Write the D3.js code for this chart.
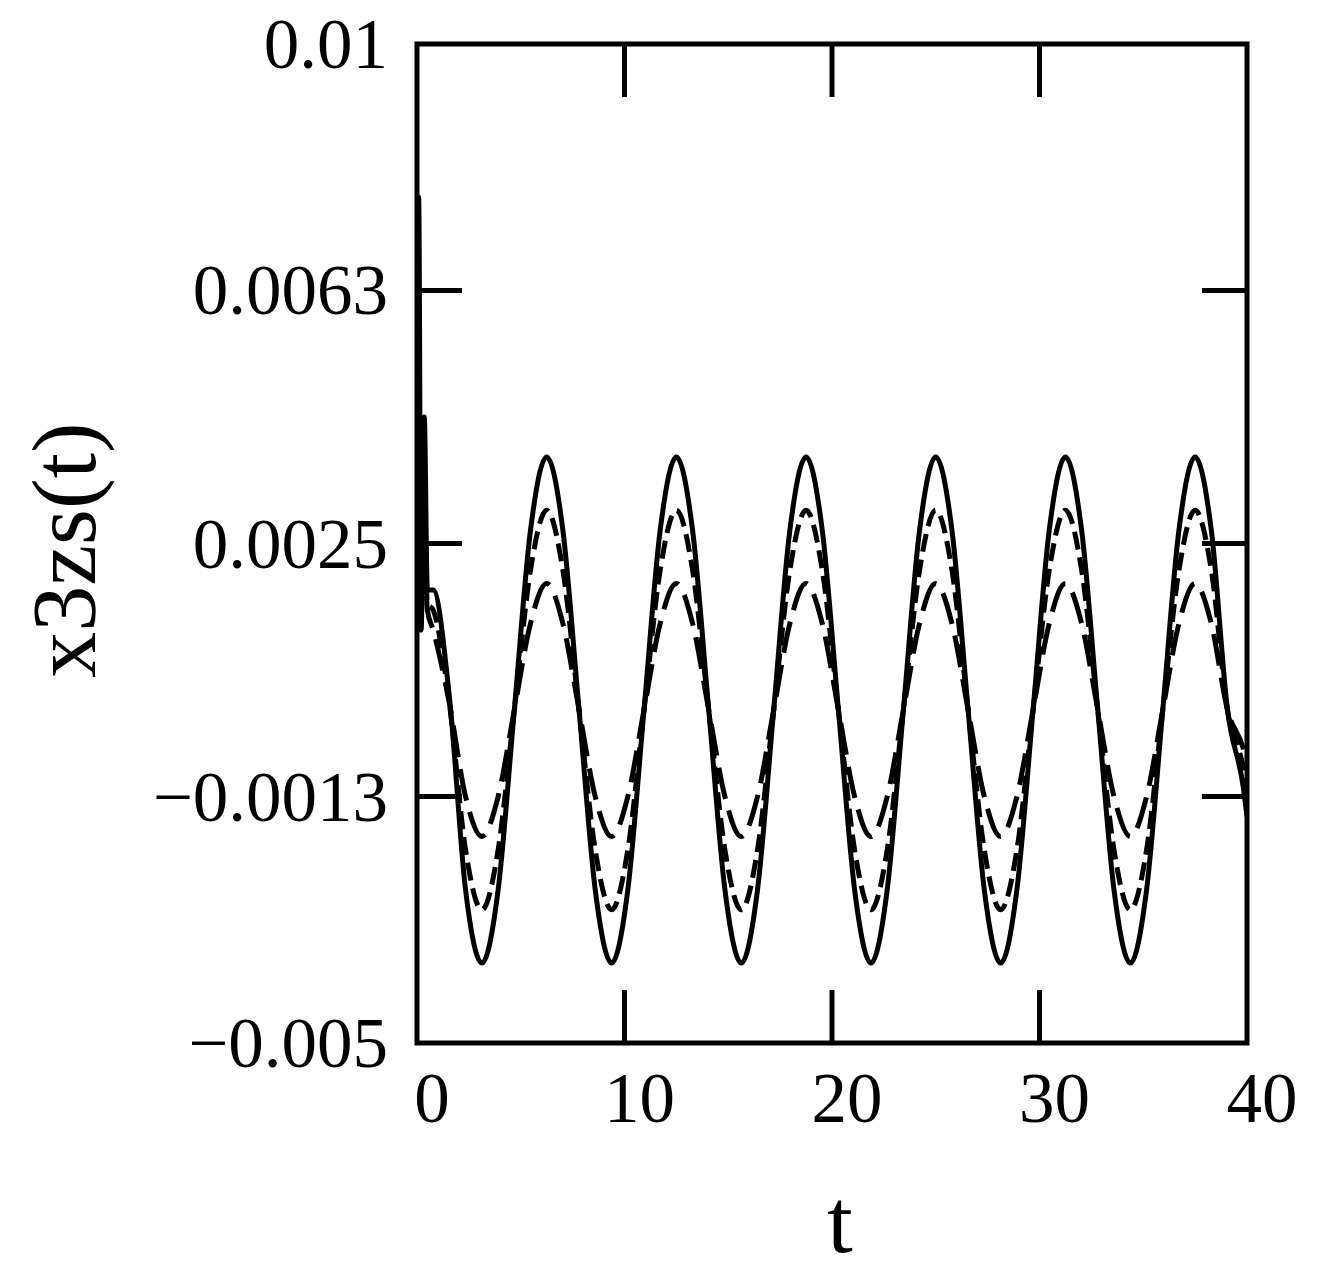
<!DOCTYPE html>
<html><head><meta charset="utf-8">
<script src="https://cdn.jsdelivr.net/npm/d3@7"></script>
<style>body{margin:0;background:#fff}</style></head>
<body><svg id="c" width="1318" height="1278"></svg>
<script>
const tVals=[0,0.08,0.2,0.35,0.5,0.78,1.56,2.34,3.13,3.91,4.69,5.47,6.25,7.03,7.81,8.59,9.38,10.16,10.94,11.72,12.5,13.28,14.06,14.84,15.63,16.41,17.19,17.97,18.75,19.53,20.31,21.09,21.88,22.66,23.44,24.22,25,25.78,26.56,27.34,28.13,28.91,29.69,30.47,31.25,32.03,32.81,33.59,34.38,35.16,35.94,36.72,37.5,38.28,39.06,39.84,40];
const solid=[0.0022,0.0077,0.0012,0.0044,0.0018,0.0018,0.0002,-0.0027,-0.0038,-0.0027,0,0.0027,0.0038,0.0027,0,-0.0027,-0.0038,-0.0027,0,0.0027,0.0038,0.0027,0,-0.0027,-0.0038,-0.0027,0,0.0027,0.0038,0.0027,0,-0.0027,-0.0038,-0.0027,0,0.0027,0.0038,0.0027,0,-0.0027,-0.0038,-0.0027,0,0.0027,0.0038,0.0027,0,-0.0027,-0.0038,-0.0027,0,0.0027,0.0038,0.0027,0,-0.0012,-0.0016];
const dashed=[0.0020,0.0030,0.0015,0.0030,0.0016,0.0015,0.0001,-0.0021,-0.0030,-0.0021,0,0.0021,0.0030,0.0021,0,-0.0021,-0.0030,-0.0021,0,0.0021,0.0030,0.0021,0,-0.0021,-0.0030,-0.0021,0,0.0021,0.0030,0.0021,0,-0.0021,-0.0030,-0.0021,0,0.0021,0.0030,0.0021,0,-0.0021,-0.0030,-0.0021,0,0.0021,0.0030,0.0021,0,-0.0021,-0.0030,-0.0021,0,0.0021,0.0030,0.0021,0,-0.0009,-0.0012];
const longDash=[0.0018,0.0026,0.0016,0.0024,0.0015,0.0012,0.0001,-0.0013,-0.0019,-0.0013,0,0.0013,0.0019,0.0013,0,-0.0013,-0.0019,-0.0013,0,0.0013,0.0019,0.0013,0,-0.0013,-0.0019,-0.0013,0,0.0013,0.0019,0.0013,0,-0.0013,-0.0019,-0.0013,0,0.0013,0.0019,0.0013,0,-0.0013,-0.0019,-0.0013,0,0.0013,0.0019,0.0013,0,-0.0013,-0.0019,-0.0013,0,0.0013,0.0019,0.0013,0,-0.0006,-0.0008];
const yTicks=[0.01,0.0063,0.0025,-0.0013,-0.005];
const yLabels=["0.01","0.0063","0.0025","\u22120.0013","\u22120.005"];
const xTicks=[0,10,20,30,40];

const svg=d3.select("#c");
const L=417,R=1247,T=44,B=1043;
const x=d3.scaleLinear().domain([0,40]).range([L,R]);
const y=d3.scaleLinear().domain([-0.005,0.01]).range([B,T]);
const font="Liberation Serif, Times New Roman, serif";
svg.append("clipPath").attr("id","cp").append("rect").attr("x",L).attr("y",T).attr("width",R-L).attr("height",B-T);
const g=svg.append("g");
const line=d3.line().x((d,i)=>x(tVals[i])).y(d=>y(d)).curve(d3.curveMonotoneX);
[[solid,null],[dashed,"18,8"],[longDash,"32,12"]].forEach(([s,da])=>{
  g.append("path").attr("d",line(s)).attr("fill","none").attr("stroke","#000").attr("stroke-width",5)
   .attr("stroke-dasharray",da).attr("clip-path","url(#cp)");
});
yTicks.slice(1,4).forEach(v=>{
  g.append("line").attr("x1",L).attr("x2",L+45).attr("y1",y(v)).attr("y2",y(v)).attr("stroke","#000").attr("stroke-width",5);
  g.append("line").attr("x1",R-45).attr("x2",R).attr("y1",y(v)).attr("y2",y(v)).attr("stroke","#000").attr("stroke-width",5);
});
xTicks.slice(1,4).forEach(v=>{
  g.append("line").attr("x1",x(v)).attr("x2",x(v)).attr("y1",T).attr("y2",T+53).attr("stroke","#000").attr("stroke-width",5);
  g.append("line").attr("x1",x(v)).attr("x2",x(v)).attr("y1",B-53).attr("y2",B).attr("stroke","#000").attr("stroke-width",5);
});
g.append("rect").attr("x",L).attr("y",T).attr("width",R-L).attr("height",B-T).attr("fill","none").attr("stroke","#000").attr("stroke-width",5);
yTicks.forEach((v,i)=>{
  g.append("text").attr("x",388).attr("y",y(v)+24).attr("text-anchor","end").attr("font-family",font).attr("font-size",71).text(yLabels[i]);
});
xTicks.forEach(v=>{
  g.append("text").attr("x",x(v)+15).attr("y",1122).attr("text-anchor","middle").attr("font-family",font).attr("font-size",71).text(v);
});
g.append("text").attr("x",840).attr("y",1252).attr("text-anchor","middle").attr("font-family",font).attr("font-size",92).text("t");
g.append("text").attr("transform","translate(95,550) rotate(-90)").attr("text-anchor","middle").attr("font-family",font).attr("font-size",92).text("x3zs(t)");
</script></body></html>
